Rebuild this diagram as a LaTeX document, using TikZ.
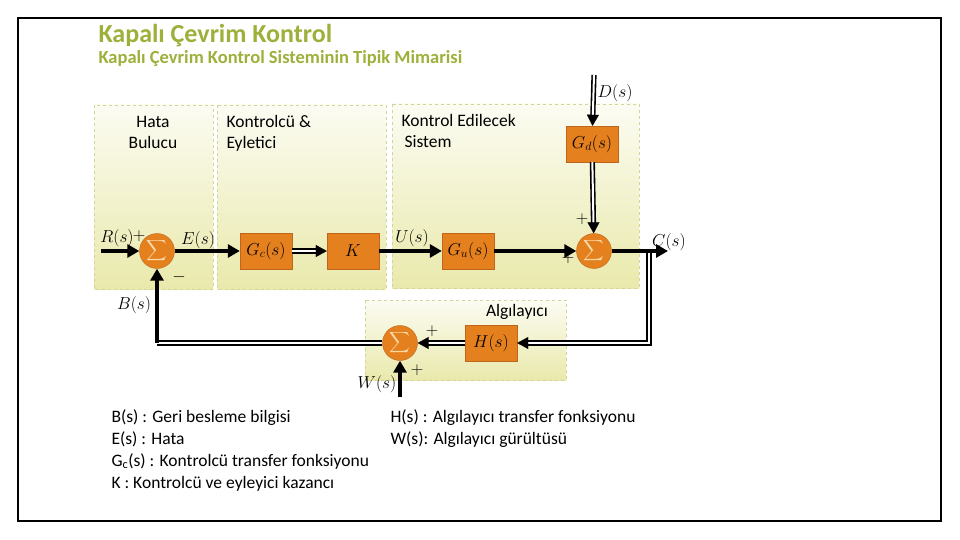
\documentclass[tikz,border=0pt]{standalone}
\usepackage{exscale}
\usepackage{fontspec}
\setmainfont{Carlito}
\definecolor{titlegreen}{HTML}{9DB03A}
\definecolor{blockorange}{HTML}{E4801E}
\definecolor{blockedge}{HTML}{C0661C}
\definecolor{panelyellow}{HTML}{E9E9AC}
\definecolor{paneledge}{HTML}{D4D49A}
\definecolor{sigmatint}{HTML}{FAD9A6}
\usetikzlibrary{arrows.meta,positioning,calc}
\newcommand{\labfont}{\fontsize{19}{22}\selectfont}
\newcommand{\txtfont}{\fontsize{17.5}{20}\selectfont}
\tikzset{
  panel/.style={draw=paneledge, dashed, line width=0.8pt, top color=panelyellow!15!white, bottom color=panelyellow},
  block/.style={draw=blockedge, fill=blockorange, minimum width=52pt, minimum height=36pt, inner sep=0pt, font=\fontsize{17}{20}\selectfont},
  summer/.style={circle, draw=blockedge, fill=blockorange, minimum size=35pt, inner sep=0pt, text=sigmatint, font=\fontsize{15}{15}\selectfont},
  sig/.style={line width=4pt, -{Triangle[length=12pt,width=13pt]}},
  dblline/.style={double, double distance=2pt, line width=1.6pt},
  tipline/.style={draw=white, line width=0.2pt, -{Triangle[length=11pt,width=12pt,black]}},
  sign/.style={font=\fontsize{16}{16}\selectfont},
}
% double connector with a filled tip
\newcommand{\dblarrow}[1]{\draw[dblline, shorten >=9pt] #1; \draw[tipline] #1;}
\begin{document}
\begin{tikzpicture}[x=1pt,y=-1pt]
  \useasboundingbox (0,0) rectangle (960,540);
  % frame
  \draw[line width=2pt] (18,18) rectangle (941,521);
  % titles
  \node[anchor=base west,text=titlegreen,font=\fontsize{26}{28}\selectfont\bfseries] (title) at (95,43) {Kapalı Çevrim Kontrol};
  \node[anchor=base west,text=titlegreen,font=\fontsize{18.5}{21}\selectfont\bfseries] (subtitle) at (95,64) {Kapalı Çevrim Kontrol Sisteminin Tipik Mimarisi};
  % panels
  \draw[panel] (94,105) rectangle (213,289);
  \draw[panel] (217,105) rectangle (386,289);
  \draw[panel] (392,104) rectangle (639,288);
  \draw[panel] (365,300) rectangle (566,380);
  \node[anchor=base,font=\txtfont] (hata) at (153,128) {Hata};
  \node[anchor=base,font=\txtfont] (bulucu) at (153,149) {Bulucu};
  \node[anchor=base west,font=\txtfont] (kontrolcu) at (223,128) {Kontrolcü \&};
  \node[anchor=base west,font=\txtfont] (eyletici) at (223,149) {Eyletici};
  \node[anchor=base west,font=\txtfont] (edilecek) at (398,127) {Kontrol Edilecek};
  \node[anchor=base west,font=\txtfont] (sistem) at (401,148) {Sistem};
  \node[anchor=base,font=\txtfont] (algilayici) at (517,316) {Algılayıcı};
  % blocks
  \node[summer] (sum1) at (157,251) {$\displaystyle\sum$};
  \node[block] (gc) at (266,251) {$G_c(s)$};
  \node[block] (k) at (353,251) {$K$};
  \node[block] (gu) at (468,251) {$G_u(s)$};
  \node[block] (gd) at (592,144) {$G_d(s)$};
  \node[summer] (sum2) at (594,251) {$\displaystyle\sum$};
  \node[block] (h) at (491,343) {$H(s)$};
  \node[summer] (sum3) at (400,343) {$\displaystyle\sum$};
  % free ends
  \coordinate (rin) at (101,251);
  \coordinate (din) at (594,75);
  \coordinate (cout) at (668,251);
  \coordinate (tap) at (649,251);
  \coordinate (tapdown) at (649,343);
  \coordinate (bcorner) at (157,343);
  \coordinate (win) at (400,397);
  % connectors
  \draw[sig] (rin) -- (sum1);
  \draw[sig] (sum1) -- (gc);
  \dblarrow{(gc) -- (k)}
  \draw[sig] (k) -- (gu);
  \draw[sig] (gu) -- (sum2);
  \dblarrow{(din) -- (gd)}
  \dblarrow{(gd) -- (sum2)}
  \dblarrow{(tap) -- (tapdown) -- (h)}
  \draw[sig] (sum2) -- (cout);
  \dblarrow{(h) -- (sum3)}
  \draw[dblline] (sum3) -- (bcorner);
  \draw[sig] (bcorner) -- (sum1);
  \draw[sig] (win) -- (sum3);
  % signal labels
  \node[font=\labfont] (rlab) at (117,238) {$R(s)$};
  \node[font=\labfont] (elab) at (198,240) {$E(s)$};
  \node[font=\labfont] (ulab) at (412,238) {$U(s)$};
  \node[font=\labfont] (dlab) at (615,93) {$D(s)$};
  \node[font=\labfont] (clab) at (669,242) {$C(s)$};
  \node[font=\labfont] (blab) at (134,305) {$B(s)$};
  \node[font=\labfont] (wlab) at (377,384) {$W(s)$};
  % signs
  \node[sign] (s1p) at (139,236) {$+$};
  \node[sign] (s1m) at (179,277) {$-$};
  \node[sign] (s2p) at (582,219) {$+$};
  \node[sign] (s2q) at (568,258) {$+$};
  \node[sign] (s3p) at (432,331) {$+$};
  \node[sign] (s3q) at (417,370) {$+$};
  % legend
  \node[anchor=base west,font=\txtfont] (legb) at (108,422) {B(s) : Geri besleme bilgisi};
  \node[anchor=base west,font=\txtfont] (lege) at (108,444) {E(s) : Hata};
  \node[anchor=base west,font=\txtfont] (leggc) at (108,466) {G\textsubscript{c}(s) : Kontrolcü transfer fonksiyonu};
  \node[anchor=base west,font=\txtfont] (legk) at (108,488) {K : Kontrolcü ve eyleyici kazancı};
  \node[anchor=base west,font=\txtfont] (legh) at (387,422) {H(s) : Algılayıcı transfer fonksiyonu};
  \node[anchor=base west,font=\txtfont] (legw) at (387,444) {W(s): Algılayıcı gürültüsü};
\end{tikzpicture}
\end{document}
